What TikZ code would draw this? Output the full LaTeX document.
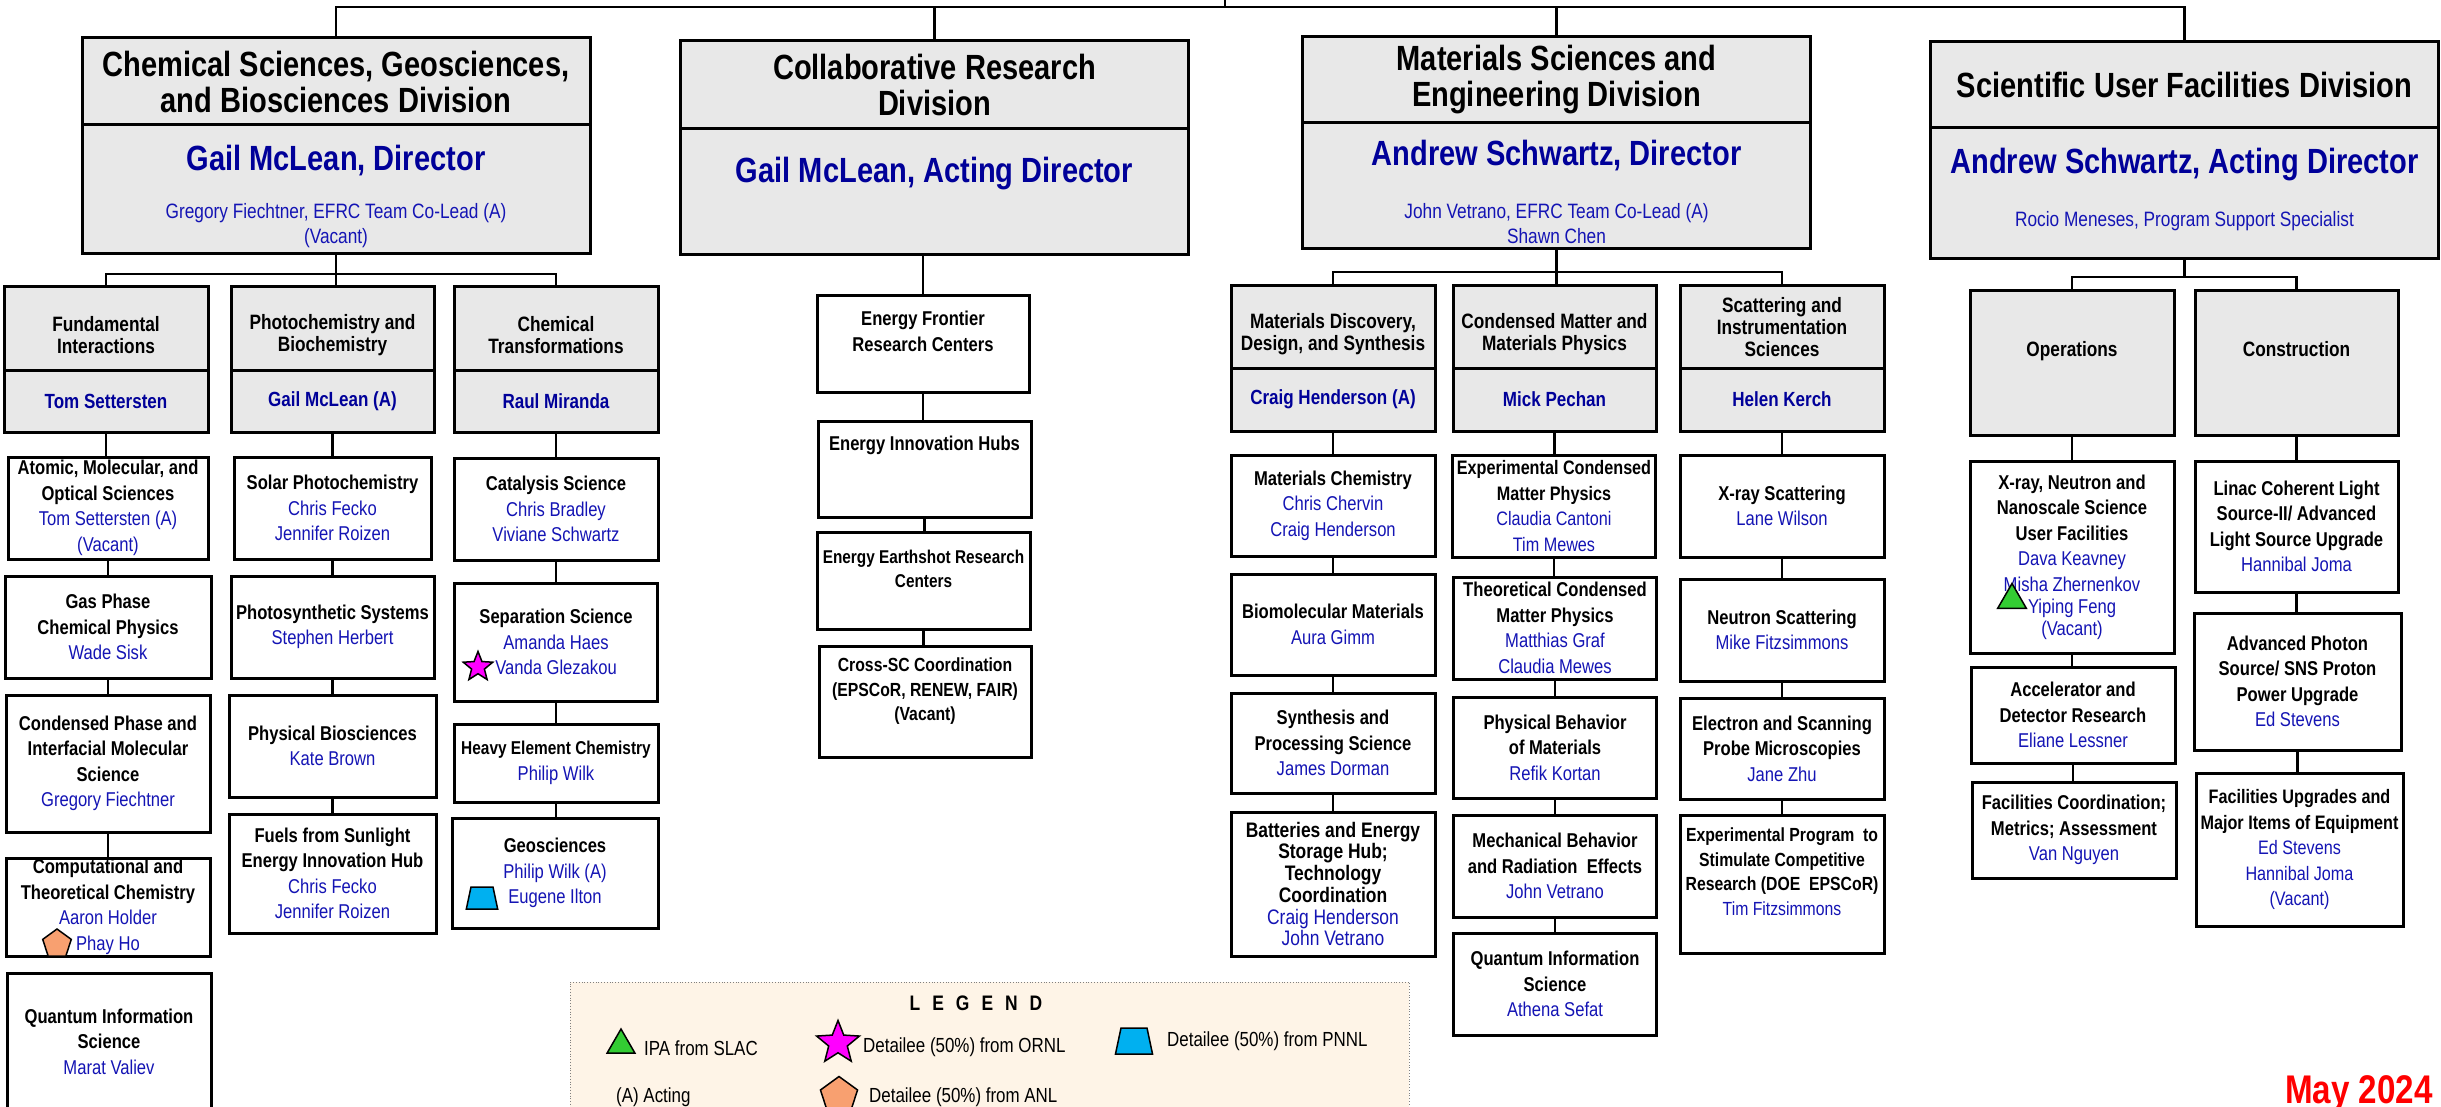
\documentclass[tikz,border=0pt]{standalone}
\usepackage{fontspec}
\setmainfont[FakeStretch=0.83]{Liberation Sans}
\usetikzlibrary{positioning,shapes.geometric}
\definecolor{boxgray}{RGB}{232,232,232}
\definecolor{dirblue}{RGB}{0,0,153}
\definecolor{nmblue}{RGB}{20,20,180}
\definecolor{legendbg}{RGB}{254,244,231}
\definecolor{ipagreen}{RGB}{51,204,51}
\definecolor{ornlpink}{RGB}{255,0,255}
\definecolor{pnnlblue}{RGB}{0,176,240}
\definecolor{anlorange}{RGB}{248,160,112}
\definecolor{mayred}{RGB}{255,0,0}
\newcommand\who[1]{{\mdseries\color{nmblue}#1}}
\newcommand\hdtop{\rule{0pt}{29pt}}
\begin{document}
\begin{tikzpicture}[x=1pt,y=-1pt,
    link/.style={line width=2.2pt},
    divhead/.style={draw,line width=3pt,fill=boxgray,outer sep=0pt,inner sep=0pt,
      minimum width=508pt,align=center,font=\fontsize{35}{36}\selectfont\bfseries},
    divdir/.style={anchor=base,inner sep=0pt,text=dirblue,font=\fontsize{35}{36}\selectfont\bfseries},
    divsub/.style={inner sep=0pt,align=center,text=nmblue,font=\fontsize{20.8}{25}\selectfont},
    brhead/.style={draw,line width=3pt,fill=boxgray,outer sep=0pt,inner sep=0pt,
      align=center,font=\fontsize{20.8}{22}\selectfont\bfseries},
    brname/.style={brhead,text=dirblue,font=\fontsize{20.5}{22}\selectfont\bfseries},
    unit/.style={draw,line width=3pt,fill=white,outer sep=0pt,inner xsep=1pt,inner ysep=0pt,
      align=center,font=\fontsize{20}{25.5}\selectfont\bfseries},
    tag/.style={draw,line width=1.5pt,inner sep=0pt,outer sep=0pt},
    ipa/.style={tag,fill=ipagreen,regular polygon,regular polygon sides=3,minimum size=33pt},
    ornl/.style={tag,fill=ornlpink,star,star points=5,star point ratio=2.3,minimum size=31pt},
    pnnl/.style={tag,fill=pnnlblue,trapezium,inner sep=1pt,trapezium left angle=78,
      trapezium right angle=78,minimum width=28pt,minimum height=22pt},
    anl/.style={tag,fill=anlorange,regular polygon,regular polygon sides=5,minimum size=30pt},
    lgtext/.style={anchor=west,inner sep=0pt,font=\fontsize{20.4}{24}\selectfont}]
  \useasboundingbox (0,0) rectangle (2441,1107);

  \node[divhead,minimum height=87pt] (csgbT) at (336,81.5) {Chemical Sciences, Geosciences,\\and Biosciences Division};
  \node[divhead,minimum height=129pt,below=0pt of csgbT] (csgb) {};
  \node[divdir] (csgbDir) at (336,170.5) {Gail McLean, Director};
  \node[divsub] (csgbSub) at (336,226) {Gregory Fiechtner, EFRC Team Co-Lead (A)\\(Vacant)};

  \node[divhead,minimum height=88pt] (collabT) at (934.5,85) {Collaborative Research\\Division};
  \node[divhead,minimum height=126pt,below=0pt of collabT] (collab) {};
  \node[divdir] (collabDir) at (934.5,182.5) {Gail McLean, Acting Director};

  \node[divhead,minimum height=86pt] (mseT) at (1556.5,80) {Materials Sciences and\\Engineering Division};
  \node[divhead,minimum height=126pt,below=0pt of mseT] (mse) {};
  \node[divdir] (mseDir) at (1556.5,165.5) {Andrew Schwartz, Director};
  \node[divsub] (mseSub) at (1556.5,224) {John Vetrano, EFRC Team Co-Lead (A)\\Shawn Chen};

  \node[divhead,minimum height=86pt] (sufT) at (2184.5,85) {Scientific User Facilities Division};
  \node[divhead,minimum height=131pt,below=0pt of sufT] (suf) {};
  \node[divdir] (sufDir) at (2184.5,173.5) {Andrew Schwartz, Acting Director};
  \node[divsub,anchor=base] (sufSub) at (2184.5,226.5) {Rocio Meneses, Program Support Specialist};

  \node[brhead,minimum width=204pt,minimum height=83pt] (fiT) at (106,328.5) {\hdtop Fundamental\\Interactions};
  \node[brname,minimum width=204pt,minimum height=62pt,below=0pt of fiT] (fi) {Tom Settersten};
  \node[brhead,minimum width=203pt,minimum height=83pt] (phT) at (332.5,328.5) {\hdtop Photochemistry and\\Biochemistry};
  \node[brname,minimum width=203pt,minimum height=62pt,below=0pt of phT] (ph) {Gail McLean (A)};
  \node[brhead,minimum width=204pt,minimum height=83pt] (ctT) at (556,328.5) {\hdtop Chemical\\Transformations};
  \node[brname,minimum width=204pt,minimum height=62pt,below=0pt of ctT] (ct) {Raul Miranda};

  \node[brhead,minimum width=204pt,minimum height=82pt] (mdT) at (1333,327) {\hdtop Materials Discovery,\\Design, and Synthesis};
  \node[brname,minimum width=204pt,minimum height=63pt,below=0pt of mdT] (md) {Craig Henderson (A)};
  \node[brhead,minimum width=203pt,minimum height=82pt] (cmT) at (1554.5,327) {\hdtop Condensed Matter and\\Materials Physics};
  \node[brname,minimum width=203pt,minimum height=63pt,below=0pt of cmT] (cm) {Mick Pechan};
  \node[brhead,minimum width=204pt,minimum height=82pt] (siT) at (1782,327) {Scattering and\\Instrumentation\\Sciences};
  \node[brname,minimum width=204pt,minimum height=63pt,below=0pt of siT] (si) {Helen Kerch};

  \node[brhead,minimum width=204pt,minimum height=144pt] (ops) at (2072,363) {Operations\\[6pt]\mbox{}};
  \node[brhead,minimum width=203pt,minimum height=144pt] (cons) at (2296.5,363) {Construction\\[6pt]\mbox{}};

  \node[unit,minimum width=200pt,minimum height=102pt] (amo) at (108,508) {Atomic, Molecular, and\\Optical Sciences\\\who{Tom Settersten (A)}\\\who{(Vacant)}};
  \node[unit,minimum width=206pt,minimum height=102pt] (gas) at (108,627) {Gas Phase\\Chemical Physics\\\who{Wade Sisk}};
  \node[unit,minimum width=204pt,minimum height=137pt] (cpims) at (108,763.5) {Condensed Phase and\\Interfacial Molecular\\Science\\\who{Gregory Fiechtner}};
  \node[unit,minimum width=204pt,minimum height=98pt] (ctc) at (108,907) {Computational and\\Theoretical Chemistry\\\who{Aaron Holder}\\\who{Phay Ho}};
  \node[unit,minimum width=204pt,minimum height=137pt] (qis) at (109,1041.5) {Quantum Information\\Science\\\who{Marat Valiev}};

  \node[unit,minimum width=197pt,minimum height=102pt] (solar) at (332.5,508) {Solar Photochemistry\\\who{Chris Fecko}\\\who{Jennifer Roizen}};
  \node[unit,minimum width=203pt,minimum height=102pt] (psyn) at (332.5,627) {Photosynthetic Systems\\\who{Stephen Herbert}};
  \node[unit,minimum width=207pt,minimum height=102pt] (pbio) at (332.5,746) {Physical Biosciences\\\who{Kate Brown}};
  \node[unit,minimum width=207pt,minimum height=119pt] (fuels) at (332.5,873.5) {Fuels from Sunlight\\Energy Innovation Hub\\\who{Chris Fecko}\\\who{Jennifer Roizen}};

  \node[unit,minimum width=204pt,minimum height=102pt] (cat) at (556,509) {Catalysis Science\\\who{Chris Bradley}\\\who{Viviane Schwartz}};
  \node[unit,minimum width=203pt,minimum height=118pt] (sep) at (556,642) {Separation Science\\\who{Amanda Haes}\\\who{Vanda Glezakou}};
  \node[unit,minimum width=204pt,minimum height=78pt] (heavy) at (556,763) {{\fontsize{18.6}{25.5}\selectfont Heavy Element Chemistry}\\\who{Philip Wilk}};
  \node[unit,minimum width=206pt,minimum height=110pt] (geo) at (555,873) {Geosciences\\\who{Philip Wilk (A)}\\\who{Eugene Ilton}};

  \node[unit,minimum width=212pt,minimum height=96pt] (efrc) at (923,344) {Energy Frontier\\Research Centers\\\mbox{}};
  \node[unit,minimum width=213pt,minimum height=96pt] (eih) at (924.5,469) {Energy Innovation Hubs\\\mbox{}\\\mbox{}};
  \node[unit,minimum width=213pt,minimum height=97pt,font=\fontsize{18.5}{24}\selectfont\bfseries] (eesrc) at (923.5,580.5) {Energy Earthshot Research\\Centers\\\mbox{}};
  \node[unit,minimum width=212pt,minimum height=111pt,font=\fontsize{19}{24.5}\selectfont\bfseries] (xsc) at (925,701.5) {Cross-SC Coordination\\(EPSCoR, RENEW, FAIR)\\(Vacant)\\\mbox{}};

  \node[unit,minimum width=204pt,minimum height=101pt] (matchem) at (1333,505.5) {Materials Chemistry\\\who{Chris Chervin}\\\who{Craig Henderson}};
  \node[unit,minimum width=204pt,minimum height=101pt] (biomol) at (1333,624.5) {Biomolecular Materials\\\who{Aura Gimm}};
  \node[unit,minimum width=204pt,minimum height=100pt] (synth) at (1333,743) {Synthesis and\\Processing Science\\\who{James Dorman}};
  \node[unit,minimum width=204pt,minimum height=144pt,font=\fontsize{21}{21.7}\selectfont\bfseries] (batt) at (1333,884) {Batteries and Energy\\Storage Hub;\\Technology\\Coordination\\\who{Craig Henderson}\\\who{John Vetrano}};

  \node[unit,minimum width=203pt,minimum height=102pt,font=\fontsize{19.5}{25.5}\selectfont\bfseries] (expcm) at (1554,506) {Experimental Condensed\\Matter Physics\\\who{Claudia Cantoni}\\\who{Tim Mewes}};
  \node[unit,minimum width=203pt,minimum height=102pt] (theocm) at (1555,628) {Theoretical Condensed\\Matter Physics\\\who{Matthias Graf}\\\who{Claudia Mewes}};
  \node[unit,minimum width=203pt,minimum height=101pt] (physbeh) at (1555,747.5) {Physical Behavior\\of Materials\\\who{Refik Kortan}};
  \node[unit,minimum width=203pt,minimum height=102pt] (mechbeh) at (1555,866) {Mechanical Behavior\\and Radiation\ \ Effects\\\who{John Vetrano}};
  \node[unit,minimum width=203pt,minimum height=102pt] (qis2) at (1555,984) {Quantum Information\\Science\\\who{Athena Sefat}};

  \node[unit,minimum width=204pt,minimum height=102pt] (xray) at (1782,506) {X-ray Scattering\\\who{Lane Wilson}};
  \node[unit,minimum width=204pt,minimum height=102pt] (neut) at (1782,630) {Neutron Scattering\\\who{Mike Fitzsimmons}};
  \node[unit,minimum width=204pt,minimum height=101pt] (elec) at (1782,748.5) {Electron and Scanning\\Probe Microscopies\\\who{Jane Zhu}};
  \node[unit,minimum width=204pt,minimum height=138pt,font=\fontsize{19}{24.5}\selectfont\bfseries] (epscor) at (1782,884) {Experimental Program\ \ to\\Stimulate Competitive\\Research (DOE\ \ EPSCoR)\\\who{Tim Fitzsimmons}\\\mbox{}};

  \node[unit,minimum width=204pt,minimum height=192pt] (xnn) at (2072,557) {X-ray, Neutron and\\Nanoscale Science\\User Facilities\\\who{Dava Keavney}\\\who{Misha Zhernenkov}\\[-3pt]\who{Yiping Feng}\\[-4pt]\who{(Vacant)}};
  \node[unit,minimum width=204pt,minimum height=96pt] (accel) at (2073,715) {Accelerator and\\Detector Research\\\who{Eliane Lessner}};
  \node[unit,minimum width=204pt,minimum height=96pt] (faccoord) at (2074,830) {Facilities Coordination;\\Metrics; Assessment\\\who{Van Nguyen}};

  \node[unit,minimum width=203pt,minimum height=131pt] (lcls) at (2296.5,526.5) {Linac Coherent Light\\Source-II/ Advanced\\Light Source Upgrade\\\who{Hannibal Joma}};
  \node[unit,minimum width=207pt,minimum height=137pt] (aps) at (2297.5,681.5) {Advanced Photon\\Source/ SNS Proton\\Power Upgrade\\\who{Ed Stevens}};
  \node[unit,minimum width=207pt,minimum height=153pt,font=\fontsize{19.5}{25.5}\selectfont\bfseries] (facup) at (2299.5,849.5) {Facilities Upgrades and\\Major Items of Equipment\\\who{Ed Stevens}\\\who{Hannibal Joma}\\\who{(Vacant)}};

  \coordinate (ofc) at (1225,0);
  \coordinate (topBus) at (1225,7);
  \draw[link] (ofc) -- (topBus);
  \draw[link] (csgbT.north) |- (topBus) -| (sufT.north);
  \draw[link] (collabT.north) -- (collabT.north |- topBus);
  \draw[link] (mseT.north) -- (mseT.north |- topBus);

  \coordinate (csgbBus) at (336,274);
  \draw[link] (csgb.south) -- (csgbBus);
  \draw[link] (fiT.north) |- (csgbBus) -| (ctT.north);
  \draw[link] (csgbBus) -- (csgbBus |- phT.north);
  \coordinate (mseBus) at (1556.5,272);
  \draw[link] (mse.south) -- (mseBus);
  \draw[link] (mdT.north) |- (mseBus) -| (siT.north);
  \draw[link] (mseBus) -- (mseBus |- cmT.north);
  \coordinate (sufBus) at (2184.5,277);
  \draw[link] (suf.south) -- (sufBus);
  \draw[link] (ops.north) |- (sufBus) -| (cons.north);
  \draw[link] (efrc.north |- collab.south) -- (efrc.north);

  \foreach \a/\b in {fi/amo,amo/gas,gas/cpims,cpims/ctc,ph/solar,solar/psyn,psyn/pbio,pbio/fuels,
      ct/cat,cat/sep,sep/heavy,heavy/geo,efrc/eih,eih/eesrc,eesrc/xsc,
      md/matchem,matchem/biomol,biomol/synth,synth/batt,
      cm/expcm,expcm/theocm,theocm/physbeh,physbeh/mechbeh,mechbeh/qis2,
      si/xray,xray/neut,neut/elec,elec/epscor,
      ops/xnn,xnn/accel,accel/faccoord,cons/lcls,lcls/aps,aps/facup}
    \draw[link] (\a.south) -- (\a.south |- \b.north);

  \node[anl] (anlHo) at (57,944) {};
  \node[ornl] (ornlGlezakou) at (478,667) {};
  \node[pnnl] (pnnlIlton) at (482,898) {};
  \node[ipa] (ipaFeng) at (2012,600) {};

  \node[draw=gray,dotted,line width=0.8pt,fill=legendbg,minimum width=839pt,minimum height=160pt] (legend) at (989.5,1062) {};
  \node[inner sep=0pt,font=\fontsize{21}{24}\selectfont\bfseries] (lgTitle) at (976,1003)
    {L\hspace{12pt}E\hspace{12pt}G\hspace{12pt}E\hspace{12pt}N\hspace{12pt}D};
  \node[ipa,minimum size=32pt] (lgIpa) at (621,1045) {};
  \node[lgtext] (lgIpaTxt) at (644,1048) {IPA from SLAC};
  \node[ornl,minimum size=45pt] (lgOrnl) at (838,1043) {};
  \node[lgtext] (lgOrnlTxt) at (863,1047) {Detailee (50\%) from ORNL};
  \node[pnnl,minimum width=33pt,minimum height=26pt] (lgPnnl) at (1134,1041) {};
  \node[lgtext] (lgPnnlTxt) at (1167,1041) {Detailee (50\%) from PNNL};
  \node[lgtext] (lgActTxt) at (616,1097) {(A) Acting};
  \node[anl,minimum size=39pt] (lgAnl) at (839,1096) {};
  \node[lgtext] (lgAnlTxt) at (869,1097) {Detailee (50\%) from ANL};

  \node[anchor=base east,inner sep=0pt,text=mayred,font=\fontsize{40}{40}\selectfont\bfseries] (may) at (2433,1103) {May 2024};
\end{tikzpicture}
\end{document}
